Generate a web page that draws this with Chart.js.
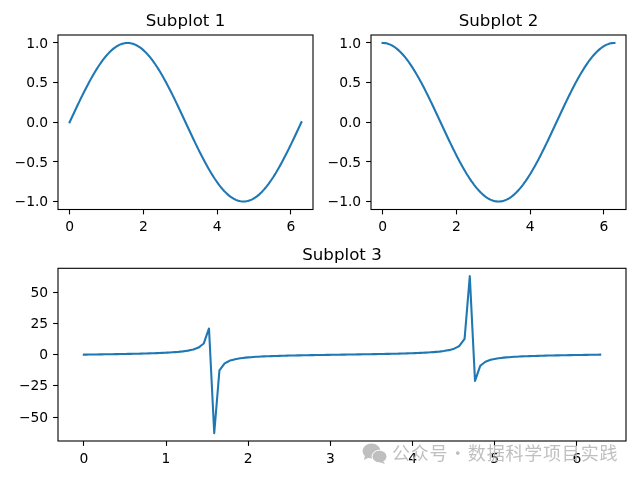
<!DOCTYPE html>
<html>
<head>
<meta charset="utf-8">
<script src="https://cdn.jsdelivr.net/npm/chart.js@4"></script>
<style>
    html, body { margin: 0; padding: 0; background: #fff; }
    #page { position: relative; width: 640px; height: 480px; overflow: hidden; }
    canvas { position: absolute; }
    #mark { position: absolute; left: 362px; top: 441px; height: 22px; white-space: nowrap; opacity: 0.9; }
    #mark svg { position: absolute; left: 0; top: 2px; }
    #mark span { position: absolute; left: 30px; top: 0; font: 18px/22px "Noto Sans CJK SC"; color: #b9b9b9; letter-spacing: 0.8px; word-spacing: -4.5px; }
</style>
</head>
<body>
<div id="page">
    <canvas id="c1" width="320" height="240" style="left:0;top:0"></canvas>
    <canvas id="c2" width="320" height="240" style="left:320px;top:0"></canvas>
    <canvas id="c3" width="640" height="240" style="left:0;top:240px"></canvas>
    <div id="mark">
        <svg width="26" height="22" viewBox="0 0 26 22">
            <ellipse cx="9.5" cy="8" rx="9" ry="7.5" fill="#b9b9b9"/>
            <path d="M3 12 L2 17 L8 14 Z" fill="#b9b9b9"/>
            <ellipse cx="17.5" cy="13.5" rx="7.5" ry="6.3" fill="#b9b9b9" stroke="#fff" stroke-width="1"/>
            <path d="M21 18 L23 21 L17 19 Z" fill="#b9b9b9"/>
        </svg>
        <span>公众号 · 数据科学项目实践</span>
    </div>
</div>
<script>
const titles = ['Subplot 1', 'Subplot 2', 'Subplot 3'];

const xValues = [
    0, 0.0635, 0.1269, 0.1904, 0.2539, 0.3173, 0.3808, 0.4443, 0.5077, 0.5712,
    0.6347, 0.6981, 0.7616, 0.8251, 0.8885, 0.9520, 1.0155, 1.0789, 1.1424, 1.2059,
    1.2693, 1.3328, 1.3963, 1.4597, 1.5232, 1.5867, 1.6501, 1.7136, 1.7771, 1.8405,
    1.9040, 1.9675, 2.0309, 2.0944, 2.1579, 2.2213, 2.2848, 2.3483, 2.4117, 2.4752,
    2.5387, 2.6021, 2.6656, 2.7291, 2.7925, 2.8560, 2.9195, 2.9829, 3.0464, 3.1099,
    3.1733, 3.2368, 3.3003, 3.3637, 3.4272, 3.4907, 3.5541, 3.6176, 3.6811, 3.7445,
    3.8080, 3.8715, 3.9349, 3.9984, 4.0619, 4.1253, 4.1888, 4.2523, 4.3157, 4.3792,
    4.4427, 4.5061, 4.5696, 4.6331, 4.6965, 4.7600, 4.8235, 4.8869, 4.9504, 5.0139,
    5.0773, 5.1408, 5.2043, 5.2677, 5.3312, 5.3947, 5.4581, 5.5216, 5.5851, 5.6485,
    5.7120, 5.7755, 5.8389, 5.9024, 5.9659, 6.0293, 6.0928, 6.1563, 6.2197, 6.2832
];

const series1 = [
    0, 0.0634, 0.1266, 0.1893, 0.2511, 0.3120, 0.3717, 0.4298, 0.4862, 0.5406,
    0.5929, 0.6428, 0.6901, 0.7346, 0.7761, 0.8146, 0.8497, 0.8815, 0.9096, 0.9341,
    0.9549, 0.9718, 0.9848, 0.9938, 0.9989, 0.9999, 0.9969, 0.9898, 0.9788, 0.9638,
    0.9450, 0.9224, 0.8960, 0.8660, 0.8326, 0.7958, 0.7557, 0.7127, 0.6668, 0.6182,
    0.5671, 0.5137, 0.4582, 0.4009, 0.3420, 0.2817, 0.2203, 0.1580, 0.0951, 0.0317,
    -0.0317, -0.0951, -0.1580, -0.2203, -0.2817, -0.3420, -0.4009, -0.4582, -0.5137, -0.5671,
    -0.6182, -0.6668, -0.7127, -0.7557, -0.7958, -0.8326, -0.8660, -0.8960, -0.9224, -0.9450,
    -0.9638, -0.9788, -0.9898, -0.9969, -0.9999, -0.9989, -0.9938, -0.9848, -0.9718, -0.9549,
    -0.9341, -0.9096, -0.8815, -0.8497, -0.8146, -0.7761, -0.7346, -0.6901, -0.6428, -0.5929,
    -0.5406, -0.4862, -0.4298, -0.3717, -0.3120, -0.2511, -0.1893, -0.1266, -0.0634, 0
];

const series2 = [
    1, 0.9980, 0.9920, 0.9819, 0.9679, 0.9501, 0.9284, 0.9029, 0.8738, 0.8413,
    0.8053, 0.7660, 0.7237, 0.6785, 0.6306, 0.5801, 0.5272, 0.4723, 0.4154, 0.3569,
    0.2969, 0.2358, 0.1736, 0.1108, 0.0476, -0.0159, -0.0792, -0.1423, -0.2048, -0.2665,
    -0.3271, -0.3863, -0.4441, -0.5000, -0.5539, -0.6056, -0.6549, -0.7015, -0.7453, -0.7861,
    -0.8237, -0.8580, -0.8888, -0.9161, -0.9397, -0.9595, -0.9754, -0.9874, -0.9955, -0.9995,
    -0.9995, -0.9955, -0.9874, -0.9754, -0.9595, -0.9397, -0.9161, -0.8888, -0.8580, -0.8237,
    -0.7861, -0.7453, -0.7015, -0.6549, -0.6056, -0.5539, -0.5000, -0.4441, -0.3863, -0.3271,
    -0.2665, -0.2048, -0.1423, -0.0792, -0.0159, 0.0476, 0.1108, 0.1736, 0.2358, 0.2969,
    0.3569, 0.4154, 0.4723, 0.5272, 0.5801, 0.6306, 0.6785, 0.7237, 0.7660, 0.8053,
    0.8413, 0.8738, 0.9029, 0.9284, 0.9501, 0.9679, 0.9819, 0.9920, 0.9980, 1
];

const series3 = [
    0, 0.0635, 0.1276, 0.1928, 0.2594, 0.3284, 0.4004, 0.4760, 0.5564, 0.6426,
    0.7363, 0.8391, 0.9536, 1.0827, 1.2307, 1.4043, 1.6117, 1.8664, 2.1897, 2.6173,
    3.2162, 4.1213, 5.6729, 8.9694, 21.0, -62.9, -12.59, -6.955, -4.779, -3.617,
    -2.889, -2.388, -2.018, -1.732, -1.503, -1.314, -1.154, -1.016, -0.8947, -0.7864,
    -0.6885, -0.5987, -0.5155, -0.4376, -0.3640, -0.2936, -0.2259, -0.1600, -0.0955, -0.0317,
    0.0317, 0.0955, 0.1600, 0.2259, 0.2936, 0.3640, 0.4376, 0.5155, 0.5987, 0.6885,
    0.7864, 0.8947, 1.016, 1.154, 1.314, 1.503, 1.732, 2.018, 2.388, 2.889,
    3.617, 4.779, 6.955, 12.59, 62.9, -21.0, -8.9694, -5.6729, -4.1213, -3.2162,
    -2.6173, -2.1897, -1.8664, -1.6117, -1.4043, -1.2307, -1.0827, -0.9536, -0.8391, -0.7363,
    -0.6426, -0.5564, -0.4760, -0.4004, -0.3284, -0.2594, -0.1928, -0.1276, -0.0635, 0
];

const xTicksTop = [0, 2, 4, 6];
const xTicksBottom = [0, 1, 2, 3, 4, 5, 6];
const yTicksTop = [-1, -0.5, 0, 0.5, 1];
const yTicksBottom = [-50, -25, 0, 25, 50];

const font = 'DejaVu Sans';

// рамка вокруг области графика, как у matplotlib
const framePlugin = {
    id: 'frame',
    afterDatasetsDraw(chart) {
        const a = chart.chartArea;
        const ctx = chart.ctx;
        ctx.save();
        ctx.strokeStyle = '#000';
        ctx.lineWidth = 1.1;
        ctx.strokeRect(a.left, a.top, a.right - a.left, a.bottom - a.top);
        ctx.restore();
    }
};

function minus(text) {
    return String(text).replace('-', '\u2212');
}

function drawPlot(id, title, xs, ys, cfg) {
    return new Chart(document.getElementById(id), {
        type: 'line',
        data: {
            datasets: [{
                data: xs.map((x, i) => ({ x: x, y: ys[i] })),
                borderColor: '#1f77b4',
                borderWidth: 2.08,
                borderJoinStyle: 'round',
                borderCapStyle: 'square',
                pointRadius: 0,
                // tension 0 включает быстрый путь, он округляет y до целых пикселей
                tension: 0.0001
            }]
        },
        options: {
            responsive: false,
            animation: false,
            layout: { padding: { left: 0, right: cfg.right, top: 0, bottom: 0 } },
            plugins: {
                legend: { display: false },
                tooltip: { enabled: false },
                title: {
                    display: true,
                    fullSize: false,
                    text: title,
                    color: '#000',
                    font: { family: font, size: 16.67, weight: 'normal', lineHeight: 1.2 },
                    padding: { top: cfg.top - 23, bottom: 3 }
                }
            },
            scales: {
                x: {
                    type: 'linear',
                    min: -0.3142,
                    max: 6.5973,
                    afterBuildTicks: ax => { ax.ticks = cfg.xTicks.map(v => ({ value: v })); },
                    afterFit: ax => { ax.height = cfg.bottom; },
                    border: { display: false },
                    grid: { drawOnChartArea: false, drawTicks: true, tickLength: 4.9, tickColor: '#000', tickWidth: 1.1 },
                    ticks: { color: '#000', padding: 4.9, maxRotation: 0, autoSkip: false, font: { family: font, size: 13.89 }, callback: v => minus(v) }
                },
                y: {
                    type: 'linear',
                    min: cfg.yMin,
                    max: cfg.yMax,
                    afterBuildTicks: ax => { ax.ticks = cfg.yTicks.map(v => ({ value: v })); },
                    afterFit: ax => { ax.width = cfg.left; },
                    border: { display: false },
                    grid: { drawOnChartArea: false, drawTicks: true, tickLength: 4.9, tickColor: '#000', tickWidth: 1.1 },
                    ticks: { color: '#000', padding: 4.9, labelOffset: 1, autoSkip: false, font: { family: font, size: 13.89 }, callback: v => minus(cfg.yDigits ? v.toFixed(cfg.yDigits) : v) }
                }
            }
        },
        plugins: [framePlugin]
    });
}

drawPlot('c1', titles[0], xValues, series1, { left: 58, right: 7, top: 35, bottom: 30.5, xTicks: xTicksTop, yTicks: yTicksTop, yMin: -1.1, yMax: 1.1, yDigits: 1 });
drawPlot('c2', titles[1], xValues, series2, { left: 51, right: 14, top: 35, bottom: 30.5, xTicks: xTicksTop, yTicks: yTicksTop, yMin: -1.1, yMax: 1.1, yDigits: 1 });
drawPlot('c3', titles[2], xValues, series3, { left: 58, right: 14, top: 28.3, bottom: 39, xTicks: xTicksBottom, yTicks: yTicksBottom, yMin: -69.2, yMax: 69.2, yDigits: 0 });
</script>
</body>
</html>
